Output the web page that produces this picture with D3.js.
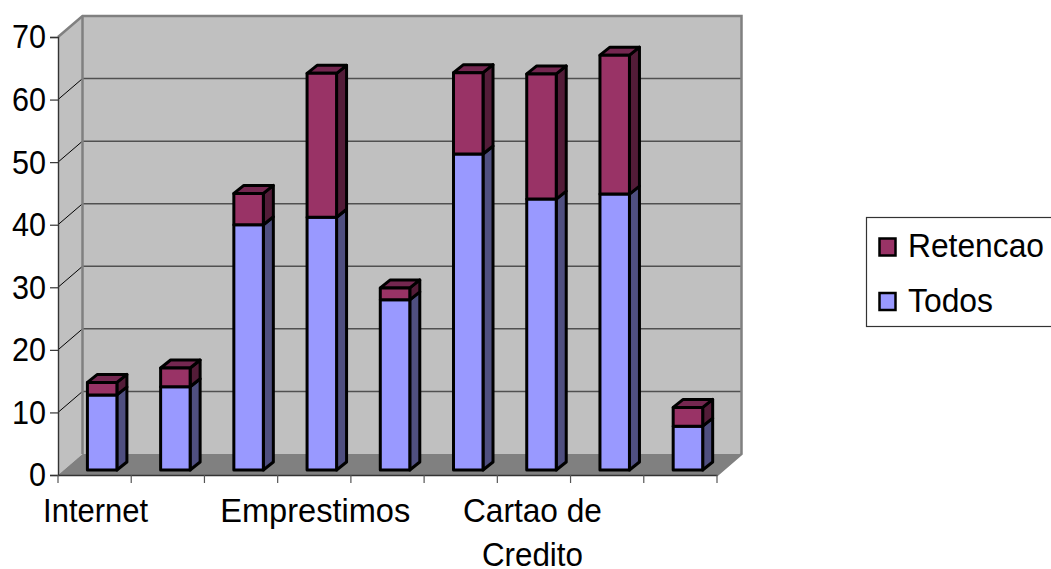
<!DOCTYPE html>
<html>
<head>
<meta charset="utf-8">
<script src="https://cdn.jsdelivr.net/npm/d3@7"></script>
<style>
html,body{margin:0;padding:0;background:#fff;overflow:hidden}
svg{display:block}
text{font-family:"Liberation Sans",Arial,sans-serif;fill:#000}
</style>
</head>
<body>
<svg id="chart" width="1051" height="569"></svg>
<script>
// Stacked 3D columns: two series over nine categories, most of them unlabelled
const categories = ["Internet", "", "", "Emprestimos", "", "", "Cartao de Credito", "", ""];
const todos = [12, 13.3, 39.2, 40.4, 27.2, 50.5, 43.3, 44.1, 7];
const retencao = [2, 3, 5, 23, 1.9, 13, 20, 22.2, 3];
const valueTicks = [0, 10, 20, 30, 40, 50, 60, 70];

const colors = {
  Todos: {front: "#9999ff", side: "#4f4f80"},
  Retencao: {front: "#993366", side: "#531c38", top: "#742750"}
};

const svg = d3.select("#chart");
const left = 58, right = 717, base = 475, ceil = 37;
const wallDx = 24.5, wallDy = -21;
const barDx = 10, barDy = -8, barW = 29.5, barLift = 5;
const labelFont = 34;

const x = d3.scaleBand().domain(d3.range(categories.length)).range([left, right]);
const y = d3.scaleLinear().domain([0, 70]).range([base, ceil]);

const poly = pts => pts.map(p => p.join(",")).join(" ");

// Floor and walls
svg.append("polygon").attr("fill", "#c0c0c0")
  .attr("points", poly([[left, ceil], [left + wallDx, ceil + wallDy], [left + wallDx, base + wallDy], [left, base]]));
svg.append("rect").attr("fill", "#c0c0c0")
  .attr("x", left + wallDx).attr("y", ceil + wallDy)
  .attr("width", right - left).attr("height", base - ceil);
svg.append("polygon").attr("fill", "#808080")
  .attr("points", poly([[left, base], [left + wallDx, base + wallDy], [right + wallDx, base + wallDy], [right, base]]));

// Gridlines run along the side wall and across the back wall
const grid = svg.append("g");
valueTicks.filter(v => v > 0 && v < 70).forEach(v => {
  grid.append("line").attr("x1", left).attr("y1", y(v))
    .attr("x2", left + wallDx).attr("y2", y(v) + wallDy)
    .attr("stroke", "#000").attr("stroke-width", 1);
  grid.append("line").attr("x1", left + wallDx).attr("y1", y(v) + wallDy)
    .attr("x2", right + wallDx).attr("y2", y(v) + wallDy)
    .attr("stroke", "#505050").attr("stroke-width", 1.5);
});

// Wall outline
svg.append("polyline").attr("fill", "none").attr("stroke", "#808080").attr("stroke-width", 2.5)
  .attr("points", poly([[left, ceil], [left + wallDx, ceil + wallDy], [right + wallDx, ceil + wallDy], [right + wallDx, base + wallDy], [right, base]]));
svg.append("line").attr("stroke", "#808080").attr("stroke-width", 2.5)
  .attr("x1", left + wallDx).attr("x2", left + wallDx)
  .attr("y1", ceil + wallDy).attr("y2", base + wallDy);

// Columns
const barY = v => y(v) - barLift;
const barX = i => x(i) + 29.4;
const drawSegment = (g, i, from, to, c, withTop) => {
  const x0 = barX(i), x1 = x0 + barW;
  const yTop = barY(to), yBot = barY(from);
  const style = s => s.attr("stroke", "#000").attr("stroke-width", 3).attr("stroke-linejoin", "round");
  g.append("polygon").attr("fill", c.side).call(style)
    .attr("points", poly([[x1, yTop], [x1 + barDx, yTop + barDy], [x1 + barDx, yBot + barDy], [x1, yBot]]));
  if (withTop) {
    g.append("polygon").attr("fill", c.top).call(style)
      .attr("points", poly([[x0, yTop], [x0 + barDx, yTop + barDy], [x1 + barDx, yTop + barDy], [x1, yTop]]));
  }
  g.append("rect").attr("fill", c.front).call(style)
    .attr("x", x0).attr("y", yTop).attr("width", barW).attr("height", yBot - yTop);
};
categories.forEach((_, i) => {
  const g = svg.append("g");
  drawSegment(g, i, 0, todos[i], colors.Todos, false);
  drawSegment(g, i, todos[i], todos[i] + retencao[i], colors.Retencao, true);
});

// Axes
const yAxis = svg.append("g").attr("transform", `translate(${left},0)`)
  .call(d3.axisLeft(y).tickValues(valueTicks).tickSize(8).tickPadding(4).tickFormat(d3.format("d")));
const xAxis = svg.append("g").attr("transform", `translate(0,${base})`)
  .call(d3.axisBottom(x).tickSize(0).tickPadding(0).tickFormat(""));
xAxis.selectAll(".tick").remove();
const edges = d3.range(categories.length + 1).map(i => left + i * x.step());
xAxis.selectAll("line.edge").data(edges).join("line").attr("class", "edge")
  .attr("x1", d => d).attr("x2", d => d).attr("y1", 0).attr("y2", 8)
  .attr("stroke", "#555").attr("stroke-width", 1.2);
svg.selectAll(".domain").attr("stroke", "#333").attr("stroke-width", 1.4);
yAxis.selectAll(".tick line").attr("stroke", "#333").attr("stroke-width", 1.2);
yAxis.selectAll(".tick text")
  .attr("font-size", labelFont).attr("font-family", '"Liberation Sans",Arial,sans-serif').attr("fill", "#000")
  .attr("textLength", d => String(d).length === 2 ? 34 : 17).attr("lengthAdjust", "spacingAndGlyphs");

// Category labels, wrapped by hand and set slightly condensed
const labelWidths = {"Internet": 105, "Emprestimos": 190, "Cartao de": 139, "Credito": 101};
const labels = svg.append("g").attr("text-anchor", "middle").attr("font-size", labelFont);
categories.forEach((name, i) => {
  if (!name) return;
  const wrapped = name === "Cartao de Credito";
  const lines = wrapped ? ["Cartao de", "Credito"] : [name];
  lines.forEach((line, j) => {
    labels.append("text").attr("x", x(i) + x.bandwidth() / 2 + (wrapped ? -1.5 : 1)).attr("y", 522 + j * 44)
      .attr("textLength", labelWidths[line]).attr("lengthAdjust", "spacingAndGlyphs").text(line);
  });
});

// Legend
const legend = svg.append("g");
legend.append("rect").attr("x", 866.5).attr("y", 217.5).attr("width", 190).attr("height", 109)
  .attr("fill", "#fff").attr("stroke", "#333").attr("stroke-width", 1.2);
const legendWidths = {Retencao: 136, Todos: 85};
["Retencao", "Todos"].forEach((name, i) => {
  const ly = 247 + i * 54.5;
  legend.append("rect").attr("x", 879.5).attr("y", ly - 8.5).attr("width", 16).attr("height", 17)
    .attr("fill", colors[name].front).attr("stroke", "#000").attr("stroke-width", 2.5);
  legend.append("text").attr("x", 908).attr("y", ly + 10).attr("font-size", 33)
    .attr("textLength", legendWidths[name]).attr("lengthAdjust", "spacingAndGlyphs").text(name);
});
</script>
</body>
</html>
